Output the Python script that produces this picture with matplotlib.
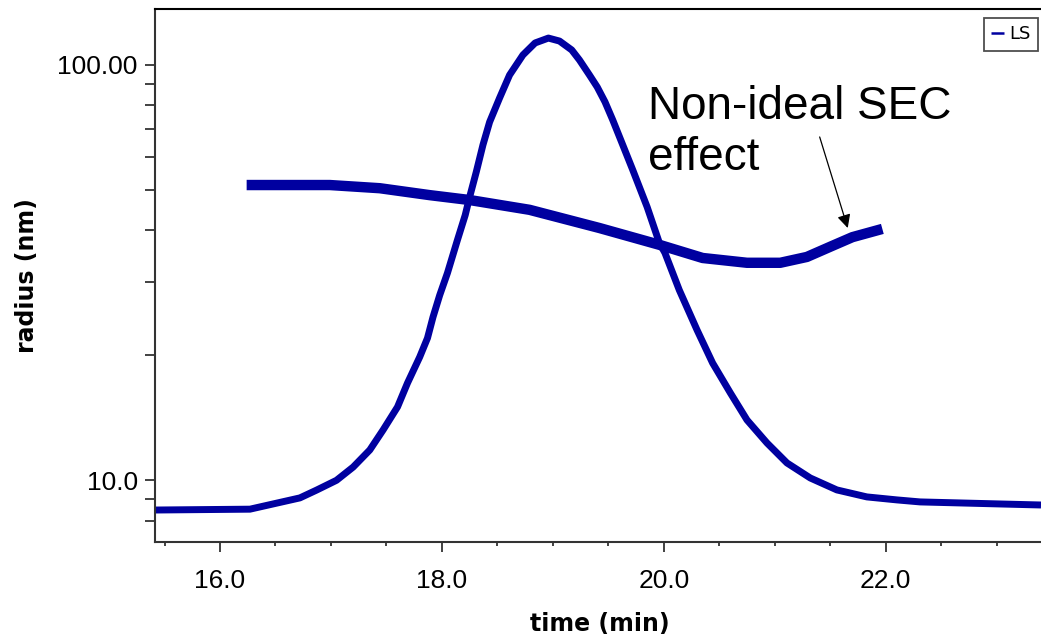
import matplotlib.pyplot as plt
from matplotlib.ticker import NullFormatter

# LS trace (scaled onto radius axis)
ls_time = [15.41, 16.27, 16.72, 16.87, 17.05, 17.20, 17.35, 17.47, 17.60, 17.69,
           17.80, 17.87, 17.92, 17.98, 18.05, 18.14, 18.21, 18.25, 18.31, 18.37,
           18.43, 18.52, 18.61, 18.73, 18.84, 18.96, 19.06, 19.17, 19.24, 19.33,
           19.40, 19.47, 19.54, 19.63, 19.72, 19.85, 19.96, 20.01, 20.14, 20.30,
           20.44, 20.60, 20.75, 20.93, 21.11, 21.32, 21.56, 21.83, 22.10, 22.31,
           23.03, 23.40]
ls_val = [8.48, 8.52, 9.07, 9.47, 10.0, 10.76, 11.83, 13.22, 15.02, 17.15,
          19.81, 22.0, 24.73, 27.9, 31.56, 37.9, 43.5, 48.1, 55.3, 64.2,
          72.9, 83.3, 94.6, 105.7, 113.0, 116.1, 114.2, 108.7, 102.8, 94.6,
          88.5, 81.5, 73.7, 64.2, 55.9, 45.5, 37.3, 35.3, 28.7, 23.0,
          19.16, 16.23, 13.97, 12.30, 11.01, 10.13, 9.48, 9.12, 8.97, 8.87,
          8.77, 8.72]

# radius
r_time = [16.24, 16.99, 17.44, 17.89, 18.25, 18.79, 19.42, 19.96, 20.35, 20.75,
          21.05, 21.29, 21.52, 21.70, 21.97]
r_val = [51.4, 51.4, 50.5, 48.6, 47.3, 44.8, 40.5, 36.9, 34.3, 33.4,
         33.4, 34.5, 36.7, 38.5, 40.3]

x_major = [16.0, 18.0, 20.0, 22.0]
x_labels = ['16.0', '18.0', '20.0', '22.0']
y_major = [10, 100]
y_labels = ['10.0', '100.00']
y_minor = [8, 9, 20, 30, 40, 50, 60, 70, 80, 90]

blue = '#0000a0'
axcol = '#333333'

fig = plt.figure(figsize=(10.41, 6.39), dpi=100)
ax = fig.add_axes([0.1489, 0.1523, 0.8511, 0.8336])

ax.plot(ls_time, ls_val, color=blue, lw=5, label='LS', solid_capstyle='butt',
        solid_joinstyle='round')
ax.plot(r_time, r_val, color=blue, lw=7.5, solid_capstyle='butt', solid_joinstyle='round')

ax.set_yscale('log')
ax.set_xlim(15.414, 23.40)
ax.set_ylim(7.115, 136.4)

ax.set_xticks(x_major, labels=x_labels)
ax.set_xticks([15.5 + 0.5 * i for i in range(16)], minor=True)
ax.set_yticks(y_major, labels=y_labels)
ax.set_yticks(y_minor, minor=True)
ax.yaxis.set_minor_formatter(NullFormatter())

for lab in ax.get_xticklabels() + ax.get_yticklabels():
    lab.set_family('Liberation Sans')
    lab.set_fontsize(19)

ax.tick_params(axis='x', which='major', direction='out', length=7.5, width=1.3,
               color=axcol, pad=12)
ax.tick_params(axis='x', which='minor', direction='out', length=3, width=1.3, color=axcol)
ax.tick_params(axis='y', which='both', direction='out', length=7.5, width=1.3,
               color=axcol, pad=5)

for s in ['left', 'bottom', 'top']:
    ax.spines[s].set_color(axcol)
    ax.spines[s].set_linewidth(1.5)
ax.spines['top'].set_color('black')
ax.spines['right'].set_visible(False)

ax.set_xlabel('time (min)', fontsize=17, fontweight='bold', va='center')
ax.set_ylabel('radius (nm)', fontsize=17, fontweight='bold', va='center')
ax.xaxis.set_label_coords(0.5017, -0.1545)
ax.yaxis.set_label_coords(-0.1445, 0.5)

leg = ax.legend(loc='upper right', bbox_to_anchor=(0.9966, 0.983), fancybox=False,
                edgecolor='#222222', fontsize=13, handlelength=0.7, handletextpad=0.3,
                borderpad=0.4, borderaxespad=0)
leg.get_frame().set_linewidth(1.3)
for ln in leg.get_lines():
    ln.set_linewidth(1.8)

ax.text(19.856, 55.9, 'Non-ideal SEC\neffect', fontsize=33, family='Liberation Sans',
        ha='left', va='baseline', linespacing=1.2)
ax.annotate('', xy=(21.658, 40.5), xytext=(21.405, 67.1),
            arrowprops=dict(arrowstyle='-|>', color='black', lw=0.9, mutation_scale=20,
                            shrinkA=0, shrinkB=0))

fig.savefig('out.png', dpi=100)
